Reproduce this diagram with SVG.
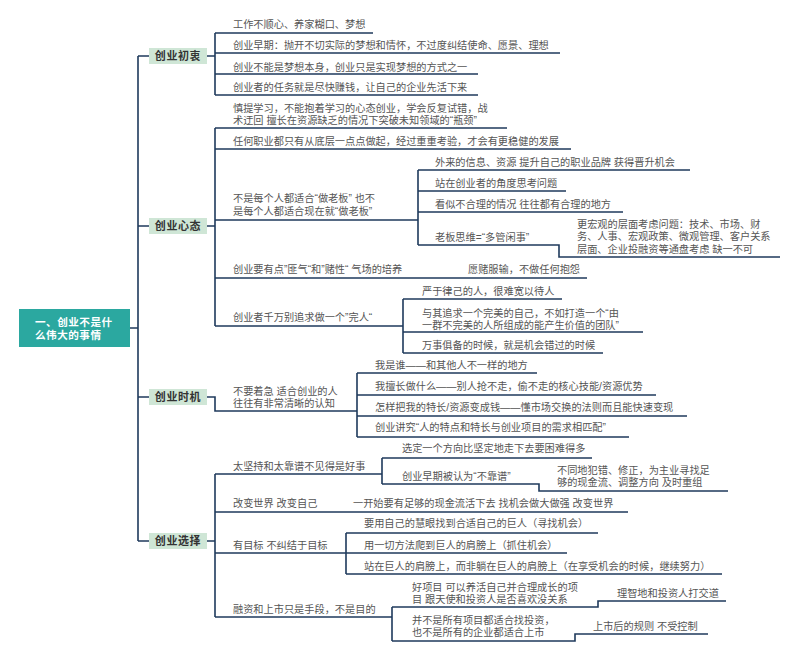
<svg xmlns="http://www.w3.org/2000/svg" width="800" height="657" viewBox="0 0 800 657">
<style>
.c{fill:none;stroke:#1f3a5c;stroke-width:1.6}
.t{font-family:"Liberation Sans","Noto Sans CJK SC",sans-serif;font-size:10.2px;fill:#555}
.l1{fill:#cfe6d6}
.l1t{font-family:"Liberation Sans","Noto Sans CJK SC",sans-serif;font-size:11px;font-weight:bold;fill:#333;text-anchor:middle;letter-spacing:0.6px}
.rt{font-family:"Liberation Sans","Noto Sans CJK SC",sans-serif;font-size:10.6px;font-weight:bold;fill:#fff;letter-spacing:0.5px}
</style>
<rect width="800" height="657" fill="#fff"/>
<g id="connectors">
<path class="c" d="M130 328H138M138 56V541M138 56H149M138 226H149M138 397H149M138 541H149"/>
<path class="c" d="M207 56H215M215 33V95M215 33H373M215 53H560M215 74H478M215 95H478"/>
<path class="c" d="M207 226H215M215 128V326M215 128H507M215 149H571M215 220H418M215 278H587M215 326H403"/>
<path class="c" d="M418 170V245M418 170H690M418 191H566M418 212H623M418 245H559V257H780"/>
<path class="c" d="M403 299V353M403 299H562M403 332H643M403 353H603"/>
<path class="c" d="M207 397H215V411H357M357 373V437M357 373H537M357 395H656M357 416H687M357 437H629"/>
<path class="c" d="M207 541H215M215 474V617M215 474H382M215 512H628M215 553H346M215 617H392"/>
<path class="c" d="M382 458V484M382 458H592M382 484H539V491H728"/>
<path class="c" d="M346 533V574M346 533H598M346 553H567M346 574H722"/>
<path class="c" d="M392 607V641M392 607H598V601H726M392 641H575V634H708"/>
</g>
<g id="root">
<rect x="19" y="309" width="111" height="38" fill="#2ba8a0"/>
<text class="rt" x="35" y="326">一、创业不是什<tspan x="35" dy="12.5">么伟大的事情</tspan></text>
</g>
<g id="n-chuzhong">
<rect class="l1" x="149" y="48" width="58" height="16"/>
<text class="l1t" x="178" y="60">创业初衷</text>
</g>
<g id="n-xintai">
<rect class="l1" x="149" y="218" width="58" height="16"/>
<text class="l1t" x="178" y="230">创业心态</text>
</g>
<g id="n-shiji">
<rect class="l1" x="149" y="389" width="58" height="16"/>
<text class="l1t" x="178" y="401">创业时机</text>
</g>
<g id="n-xuanze">
<rect class="l1" x="149" y="533" width="58" height="16"/>
<text class="l1t" x="178" y="545">创业选择</text>
</g>
<g id="chuzhong-children">
<text class="t" x="233" y="28">工作不顺心、养家糊口、梦想</text>
<text class="t" x="233" y="49">创业早期：抛开不切实际的梦想和情怀，不过度纠结使命、愿景、理想</text>
<text class="t" x="233" y="71">创业不能是梦想本身，创业只是实现梦想的方式之一</text>
<text class="t" x="233" y="91">创业者的任务就是尽快赚钱，让自己的企业先活下来</text>
</g>
<g id="xintai-children">
<text class="t" x="233" y="111.5">慎提学习，不能抱着学习的心态创业，学会反复试错，战<tspan x="233" dy="12.3">术迂回  擅长在资源缺乏的情况下突破未知领域的“瓶颈”</tspan></text>
<text class="t" x="233" y="145">任何职业都只有从底层一点点做起，经过重重考验，才会有更稳健的发展</text>
<text class="t" x="233" y="201.5">不是每个人都适合“做老板”  也不<tspan x="233" dy="13">是每个人都适合现在就“做老板”</tspan></text>
<text class="t" x="233" y="273">创业要有点”匪气“和”赌性“ 气场的培养</text>
<text class="t" x="468" y="273">愿赌服输，不做任何抱怨</text>
<text class="t" x="233" y="321">创业者千万别追求做一个”完人“</text>
</g>
<g id="laoban-children">
<text class="t" x="435" y="166">外来的信息、资源  提升自己的职业品牌  获得晋升机会</text>
<text class="t" x="435" y="187">站在创业者的角度思考问题</text>
<text class="t" x="435" y="208">看似不合理的情况  往往都有合理的地方</text>
<text class="t" x="435" y="241">老板思维=“多管闲事”</text>
<text class="t" x="577" y="227.5">更宏观的层面考虑问题：技术、市场、财<tspan x="577" dy="12.5">务、人事、宏观政策、微观管理、客户关系</tspan><tspan x="577" dy="12.5">层面、企业投融资等通盘考虑  缺一不可</tspan></text>
</g>
<g id="wanren-children">
<text class="t" x="422" y="295">严于律己的人，很难宽以待人</text>
<text class="t" x="422" y="316.5">与其追求一个完美的自己，不如打造一个“由<tspan x="422" dy="12.3">一群不完美的人所组成的能产生价值的团队”</tspan></text>
<text class="t" x="422" y="349">万事俱备的时候，就是机会错过的时候</text>
</g>
<g id="shiji-children">
<text class="t" x="233" y="394.5">不要着急  适合创业的人<tspan x="233" dy="12.3">往往有非常清晰的认知</tspan></text>
<text class="t" x="375" y="369">我是谁——和其他人不一样的地方</text>
<text class="t" x="375" y="390">我擅长做什么——别人抢不走，偷不走的核心技能/资源优势</text>
<text class="t" x="375" y="411">怎样把我的特长/资源变成钱——懂市场交换的法则而且能快速变现</text>
<text class="t" x="375" y="431">创业讲究“人的特点和特长与创业项目的需求相匹配”</text>
</g>
<g id="xuanze-children">
<text class="t" x="233" y="470">太坚持和太靠谱不见得是好事</text>
<text class="t" x="402" y="452">选定一个方向比坚定地走下去要困难得多</text>
<text class="t" x="402" y="480">创业早期被认为“不靠谱”</text>
<text class="t" x="557" y="473.5">不同地犯错、修正，为主业寻找足<tspan x="557" dy="12.3">够的现金流、调整方向  及时重组</tspan></text>
<text class="t" x="233" y="507">改变世界  改变自己</text>
<text class="t" x="353" y="507">一开始要有足够的现金流活下去  找机会做大做强  改变世界</text>
<text class="t" x="233" y="549">有目标  不纠结于目标</text>
<text class="t" x="364" y="527">要用自己的慧眼找到合适自己的巨人（寻找机会）</text>
<text class="t" x="364" y="549">用一切方法爬到巨人的肩膀上（抓住机会）</text>
<text class="t" x="364" y="570">站在巨人的肩膀上，而非躺在巨人的肩膀上（在享受机会的时候，继续努力）</text>
<text class="t" x="233" y="613">融资和上市只是手段，不是目的</text>
<text class="t" x="412" y="590.5">好项目  可以养活自己并合理成长的项<tspan x="412" dy="12.3">目  跟天使和投资人是否喜欢没关系</tspan></text>
<text class="t" x="617" y="597">理智地和投资人打交道</text>
<text class="t" x="412" y="623.5">并不是所有项目都适合找投资，<tspan x="412" dy="12.3">也不是所有的企业都适合上市</tspan></text>
<text class="t" x="593" y="630">上市后的规则  不受控制</text>
</g>
</svg>
